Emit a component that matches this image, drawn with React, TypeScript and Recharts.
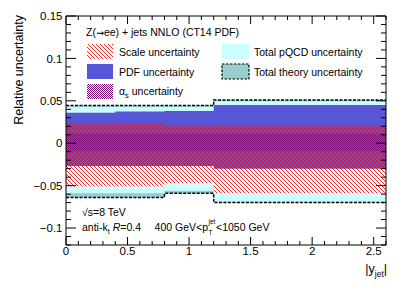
import React from 'react';
import { ComposedChart, Area, XAxis, YAxis, ReferenceArea } from 'recharts';

// |y_jet| bin edges and relative uncertainties per bin
const binEdges = [0, 0.4, 0.8, 1.2, 2.6];
const theoryUp = [0.0445, 0.0445, 0.0445, 0.051];
const theoryDown = [-0.064, -0.064, -0.059, -0.070];
const pqcdUp = [0.043, 0.043, 0.043, 0.0495];
const pqcdDown = [-0.059, -0.059, -0.056, -0.069];
const scaleUp = [0.0235, 0.0235, 0.0215, 0.0215];
const scaleDown = [-0.051, -0.051, -0.047, -0.059];
const pdfUp = [0.036, 0.0375, 0.038, 0.045];
const pdfDown = [-0.027, -0.027, -0.027, -0.030];
const alphasUp = [0.0115, 0.0115, 0.0115, 0.0115];
const alphasDown = [-0.0095, -0.0095, -0.0095, -0.0095];

const xMajorTicks = [0, 0.5, 1, 1.5, 2, 2.5];
const xTickLabels = ['0', '0.5', '1', '1.5', '2', '2.5'];
const yMajorTicks = [-0.1, -0.05, 0, 0.05, 0.1, 0.15];
const yTickLabels = ['\u22120.1', '\u22120.05', '0', '0.05', '0.1', '0.15'];

const W = 407;
const H = 292;
const PLOT_LEFT = 66;
const PLOT_RIGHT = 386;
const PLOT_TOP = 16;
const PLOT_BOTTOM = 245;
const FONT = "'Liberation Sans', Arial, Helvetica, sans-serif";

const nBins = binEdges.length - 1;
const data = binEdges.map((x, i) => {
  const k = Math.min(i, nBins - 1);
  return {
    x,
    theory: [theoryDown[k], theoryUp[k]],
    pqcd: [pqcdDown[k], pqcdUp[k]],
    scale: [scaleDown[k], scaleUp[k]],
    pdf: [pdfDown[k], pdfUp[k]],
    alphas: [alphasDown[k], alphasUp[k]],
  };
});

// minor ticks every 0.1 in x and 0.01 in y
const xAllTicks: number[] = [];
for (let i = 0; i <= 26; i++) xAllTicks.push(i / 10);
const yAllTicks: number[] = [];
for (let i = -12; i <= 15; i++) yAllTicks.push(i / 100);

const near = (a: number, b: number) => Math.abs(a - b) < 1e-6;

const YTick = (props: any) => {
  const { x, y, payload } = props;
  const v = payload.value as number;
  const idx = yMajorTicks.findIndex((m) => near(m, v));
  const len = idx >= 0 ? 10 : 5;
  return (
    <g>
      <line x1={x} x2={x + len} y1={y} y2={y} stroke="#000" />
      <line x1={PLOT_RIGHT} x2={PLOT_RIGHT - len} y1={y} y2={y} stroke="#000" />
      {idx >= 0 && (
        <text x={x - 3.5} y={y} dy="0.36em" textAnchor="end" fontSize={11.5} fontFamily={FONT} fill="#000">
          {yTickLabels[idx]}
        </text>
      )}
    </g>
  );
};

const XTick = (props: any) => {
  const { x, y, payload } = props;
  const v = payload.value as number;
  const idx = xMajorTicks.findIndex((m) => near(m, v));
  const len = idx >= 0 ? 8 : 4;
  return (
    <g>
      <line x1={x} x2={x} y1={y} y2={y - len} stroke="#000" />
      <line x1={x} x2={x} y1={PLOT_TOP} y2={PLOT_TOP + len} stroke="#000" />
      {idx >= 0 && (
        <text x={x} y={y + 10} textAnchor="middle" fontSize={11.5} fontFamily={FONT} fill="#000">
          {xTickLabels[idx]}
        </text>
      )}
    </g>
  );
};

const Patterns = ({ prefix }: { prefix: string }) => (
  <defs>
    <pattern id={`${prefix}hatch`} patternUnits="userSpaceOnUse" width={4} height={4}>
      <path d="M0,0 L4,4 M-1,3 L1,5 M3,-1 L5,1" stroke="#ff0000" strokeWidth={0.85} fill="none" />
    </pattern>
    <pattern id={`${prefix}cross`} patternUnits="userSpaceOnUse" width={2} height={2}>
      <rect x={0} y={0} width={1} height={1} fill="#80107a" />
      <rect x={1} y={1} width={1} height={1} fill="#80107a" />
    </pattern>
  </defs>
);

const Overlay = () => {
  const t = { fontFamily: FONT, fontSize: 10.5, fill: '#000' } as const;
  return (
    <svg width={W} height={H} style={{ position: 'absolute', left: 0, top: 0, pointerEvents: 'none' }}>
      <Patterns prefix="leg" />
      <text x={86} y={36} {...t}>
        Z(<tspan fontFamily="'DejaVu Sans', sans-serif" fontSize={9.5}>→</tspan>ee) + jets NNLO (CT14 PDF)
      </text>

      <rect x={87} y={44} width={26} height={15} fill="#fff" />
      <rect x={87} y={44} width={26} height={15} fill="url(#leghatch)" />
      <text x={119} y={55.5} {...t}>Scale uncertainty</text>

      <rect x={87} y={64} width={26} height={15} fill="#5656d6" />
      <text x={119} y={75.5} {...t}>PDF uncertainty</text>

      <rect x={87} y={84} width={26} height={15} fill="url(#legcross)" />
      <text x={119} y={95} {...t}>
        α<tspan fontSize={7.5} dy={2.5}>s</tspan>
        <tspan dy={-2.5}> uncertainty</tspan>
      </text>

      <rect x={222} y={44} width={27} height={15} fill="#ccffff" />
      <text x={254} y={55.5} {...t}>Total pQCD uncertainty</text>

      <rect x={222} y={64} width={27} height={15} fill="#99cccc" stroke="#000" strokeWidth={1.2} strokeDasharray="2.5 1.5" />
      <text x={254} y={75.5} {...t}>Total theory uncertainty</text>

      <text x={82} y={216} {...t}>√s=8 TeV</text>
      <text x={82} y={231} {...t}>
        anti-k<tspan fontSize={7.5} dy={2.5}>t</tspan>
        <tspan dy={-2.5}> </tspan>
        <tspan fontStyle="italic">R</tspan>=0.4
      </text>
      <text x={208} y={231} textAnchor="end" {...t}>400 GeV&lt;p</text>
      <text x={208.5} y={224} {...t} fontSize={6.5}>jet</text>
      <text x={208.5} y={234.5} {...t} fontSize={6.5}>T</text>
      <text x={216} y={231} {...t}>&lt;1050 GeV</text>

      <text x={22.5} y={15} transform="rotate(-90 22.5 15)" textAnchor="end" fontFamily={FONT} fontSize={12.5} fill="#000">
        Relative uncertainty
      </text>
      <text x={387} y={273} textAnchor="end" fontFamily={FONT} fontSize={12.5} fill="#000">
        |y<tspan fontSize={8.5} dy={4}>jet</tspan>
        <tspan dy={-4}>|</tspan>
      </text>
    </svg>
  );
};

const margin = { top: PLOT_TOP, right: W - PLOT_RIGHT, bottom: H - PLOT_BOTTOM - 20, left: 0 };

export default function App() {
  return (
    <div style={{ position: 'relative', width: W, height: H, background: '#fff' }}>
      <style>{'body{margin:0;overflow:hidden;}'}</style>
      <ComposedChart width={W} height={H} data={data} margin={margin}>
        <Patterns prefix="plot" />
        <XAxis dataKey="x" type="number" domain={[0, 2.6]} height={20} tick={false} axisLine={false} tickLine={false} allowDataOverflow />
        <YAxis type="number" domain={[-0.12, 0.15]} width={PLOT_LEFT} tick={false} axisLine={false} tickLine={false} allowDataOverflow />
        <Area dataKey="theory" type="stepAfter" fill="#99cccc" fillOpacity={1} stroke="none" dot={false} activeDot={false} isAnimationActive={false} />
        <Area dataKey="pqcd" type="stepAfter" fill="#ccffff" fillOpacity={1} stroke="none" dot={false} activeDot={false} isAnimationActive={false} />
        <Area dataKey="scale" type="stepAfter" fill="#ffffff" fillOpacity={1} stroke="none" dot={false} activeDot={false} isAnimationActive={false} />
        <Area dataKey="pdf" type="stepAfter" fill="#5656d6" fillOpacity={1} stroke="none" dot={false} activeDot={false} isAnimationActive={false} />
        <Area dataKey="scale" type="stepAfter" fill="url(#plothatch)" fillOpacity={1} stroke="none" dot={false} activeDot={false} isAnimationActive={false} />
        <Area dataKey="alphas" type="stepAfter" fill="url(#plotcross)" fillOpacity={1} stroke="none" dot={false} activeDot={false} isAnimationActive={false} />
        <Area dataKey="theory" type="stepAfter" fill="none" stroke="#000" strokeWidth={1.5} strokeDasharray="3 1.5" dot={false} activeDot={false} isAnimationActive={false} />
      </ComposedChart>
      {/* frame and inward ticks drawn on top of the bands */}
      <div style={{ position: 'absolute', left: 0, top: 0 }}>
        <ComposedChart width={W} height={H} data={data} margin={margin}>
          <XAxis
            dataKey="x"
            type="number"
            domain={[0, 2.6]}
            ticks={xAllTicks}
            interval={0}
            height={20}
            tickSize={0}
            tickMargin={0}
            axisLine={false}
            tick={<XTick />}
            allowDataOverflow
          />
          <YAxis
            type="number"
            domain={[-0.12, 0.15]}
            ticks={yAllTicks}
            interval={0}
            width={PLOT_LEFT}
            tickSize={0}
            tickMargin={0}
            axisLine={false}
            tick={<YTick />}
            allowDataOverflow
          />
          <ReferenceArea x1={0} x2={2.6} y1={-0.12} y2={0.15} fill="none" stroke="#000" strokeWidth={1} ifOverflow="visible" />
        </ComposedChart>
      </div>
      <Overlay />
    </div>
  );
}
